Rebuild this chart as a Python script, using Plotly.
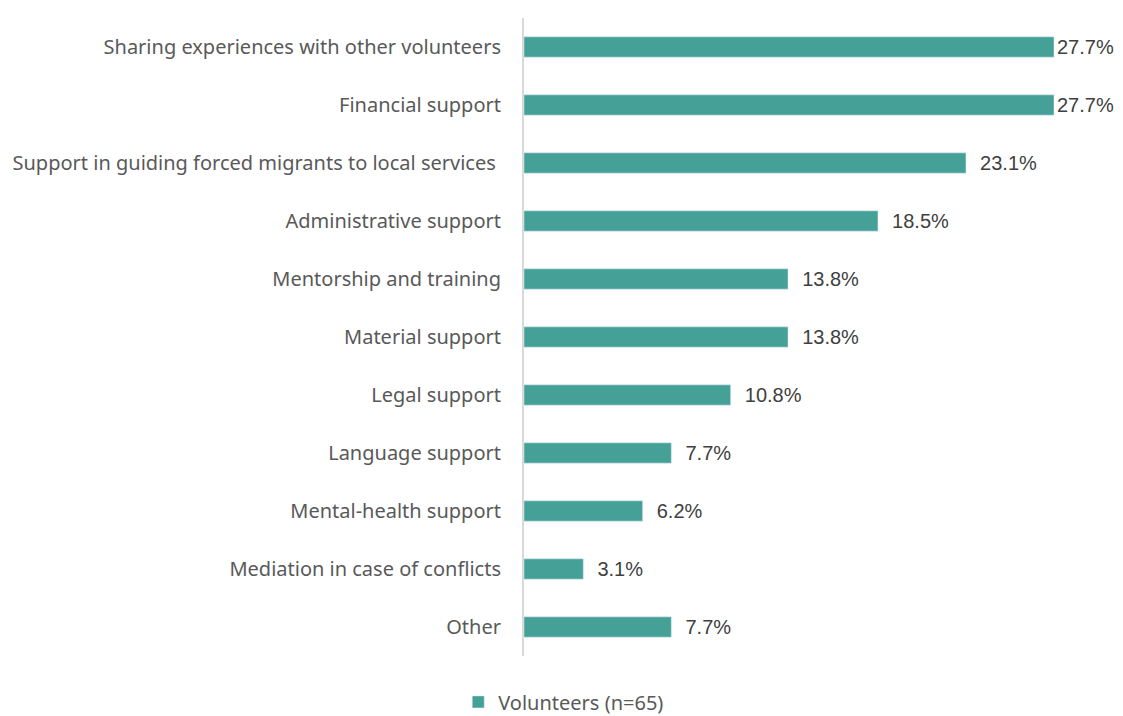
import plotly.graph_objects as go

# Survey responses, top to bottom as shown
categories = [
    "Sharing experiences with other volunteers",
    "Financial support",
    "Support in guiding forced migrants to local services ",
    "Administrative support",
    "Mentorship and training",
    "Material support",
    "Legal support",
    "Language support",
    "Mental-health support",
    "Mediation in case of conflicts",
    "Other",
]
values = [27.7, 27.7, 23.1, 18.5, 13.8, 13.8, 10.8, 7.7, 6.2, 3.1, 7.7]
series_name = "Volunteers (n=65)"

BAR_COLOR = "#45A098"
TEXT_COLOR = "#595959"

# Excel-style label padding; the longest bars sit tight against the edge
labels = [("" if v > 25 else "\u00a0\u00a0") + f"{v:.1f}%" for v in values]

fig = go.Figure()
fig.add_trace(
    go.Bar(
        x=values,
        y=categories,
        orientation="h",
        name=series_name,
        marker=dict(color=BAR_COLOR),
        text=labels,
        textposition="outside",
        constraintext="none",
        cliponaxis=False,
        textfont=dict(family="Liberation Sans, Arial", size=20, color="#404040"),
        showlegend=True,
    )
)

fig.update_layout(
    width=1123,
    height=716,
    margin=dict(l=524, r=25, t=18, b=60, autoexpand=False),
    plot_bgcolor="white",
    paper_bgcolor="white",
    bargap=0.65,
    font=dict(family="Noto Sans, Roboto", color=TEXT_COLOR, size=20),
    legend=dict(
        orientation="h",
        xref="container",
        x=0.502,
        xanchor="center",
        y=-0.072,
        yanchor="middle",
        itemwidth=30,
        font=dict(size=20, color=TEXT_COLOR),
    ),
    xaxis=dict(
        range=[0, 30],
        showgrid=False,
        showticklabels=False,
        zeroline=False,
        showline=False,
    ),
    yaxis=dict(
        categoryorder="array",
        categoryarray=categories[::-1],
        automargin=False,
        showgrid=False,
        showline=True,
        linecolor="#D9D9D9",
        linewidth=2,
        ticks="",
        ticklabelstandoff=17,
        tickfont=dict(size=20, color=TEXT_COLOR),
    ),
)

# drop the browser's default body margin so the figure fills the window exactly
fig.write_html(
    "out.html",
    config={"displayModeBar": False},
    post_script="document.body.style.margin = '0';",
)
